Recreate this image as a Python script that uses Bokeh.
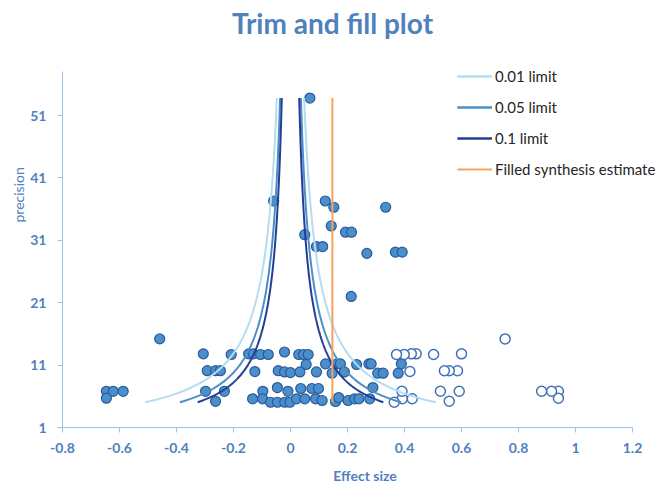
import numpy as np
from bokeh.plotting import figure
from bokeh.models import Range1d, FixedTicker, Legend, LegendItem, Title, Label
from bokeh.embed import file_html
from bokeh.resources import INLINE

# ---------------- data ----------------
# observed studies (filled markers)
obs_effect = [0.068, -0.059, 0.122, 0.152, 0.334, 0.143, 0.050, 0.193, 0.214, 0.091, 0.113,
              0.268, 0.368, 0.392, 0.213,
              -0.459,
              -0.306, -0.208, -0.147, -0.130, -0.105, -0.078, -0.021, 0.029, 0.046, 0.062,
              0.055, 0.123, 0.163, 0.175, 0.232, 0.275, 0.283, 0.389,
              -0.292, -0.263, -0.246, -0.125, -0.043, -0.021, 0.000, 0.033, 0.091, 0.146,
              0.189, 0.306, 0.325, 0.378,
              -0.646, -0.622, -0.587, -0.298, -0.232, -0.097, -0.046, -0.009, 0.036, 0.075,
              0.098, 0.289,
              -0.646, -0.263, -0.133, -0.098, -0.070, -0.046, -0.020, -0.002, 0.021, 0.050,
              0.088, 0.111, 0.158, 0.169, 0.202, 0.225, 0.240, 0.278]
obs_precision = [53.8, 37.3, 37.3, 36.3, 36.3, 33.3, 31.9, 32.3, 32.3, 30.0, 30.0,
                 28.9, 29.1, 29.1, 22.0,
                 15.2,
                 12.8, 12.7, 12.8, 12.8, 12.7, 12.7, 13.1, 12.7, 12.7, 12.7,
                 11.1, 11.2, 11.2, 11.2, 11.1, 11.2, 11.2, 11.2,
                 10.1, 10.1, 10.1, 9.97, 10.1, 9.9, 9.8, 9.9, 9.9, 9.7,
                 9.9, 9.7, 9.7, 9.7,
                 6.8, 6.8, 6.8, 6.8, 6.8, 6.8, 7.4, 6.8, 7.25, 7.25,
                 7.25, 7.4,
                 5.7, 5.2, 5.6, 5.6, 5.05, 5.05, 5.05, 5.05, 5.6, 5.6,
                 5.6, 5.33, 5.17, 5.8, 5.33, 5.6, 5.6, 5.6]

# imputed (filled-in) studies (open markers)
fill_effect = [0.940, 0.940, 0.916, 0.881, 0.753, 0.600, 0.592, 0.586, 0.557, 0.557, 0.540,
               0.526, 0.502, 0.441, 0.427, 0.424, 0.419, 0.399, 0.392, 0.391, 0.372, 0.364]
fill_precision = [6.8, 5.7, 6.8, 6.8, 15.2, 12.8, 6.8, 10.1, 10.1, 5.2, 10.1,
                  6.8, 12.7, 12.8, 5.6, 12.8, 9.97, 12.7, 5.6, 6.8, 12.7, 5.05]

# contour limits (z for two-sided significance levels)
limit_names = ["0.01 limit", "0.05 limit", "0.1 limit"]
limit_z = [2.576, 1.960, 1.645]
limit_colors = ["#B4DCF2", "#4C8FC6", "#233E97"]
precision_span = [5.05, 53.8]

filled_estimate = 0.147

x_ticks = [-0.8, -0.6, -0.4, -0.2, 0.0, 0.2, 0.4, 0.6, 0.8, 1.0, 1.2]
x_tick_labels = ["-0.8", "-0.6", "-0.4", "-0.2", "0", "0.2", "0.4", "0.6", "0.8", "1", "1.2"]
y_ticks = [1, 11, 21, 31, 41, 51]
x_axis_span = (-0.8, 1.2)
y_axis_span = (1, 58)

# ---------------- figure ----------------
BLUE = "#4F81BD"
FONT = "Lato"

# the frame is stretched to the top and right edges so that the title and legend,
# which sit outside the axes, are not clipped; the axes are bounded to their spans
p = figure(width=667, height=487, output_backend="svg", toolbar_location=None,
           x_range=Range1d(-0.8, 1.3228), y_range=Range1d(1, 69.43),
           min_border_left=62, min_border_right=0, min_border_top=0, min_border_bottom=60)
p.outline_line_color = None
p.xgrid.visible = False
p.ygrid.visible = False
p.background_fill_color = "white"

for ax in (p.xaxis[0], p.yaxis[0]):
    ax.axis_line_color = "#9CC2E5"
    ax.major_tick_line_color = "#9CC2E5"
    ax.major_tick_out = 5
    ax.major_tick_in = 0
    ax.minor_tick_line_color = None
    ax.major_label_text_color = BLUE
    ax.major_label_text_font = FONT
    ax.major_label_text_font_style = "bold"
    ax.major_label_text_font_size = "14px"

p.xaxis.bounds = x_axis_span
p.xaxis.ticker = FixedTicker(ticks=x_ticks)
p.xaxis.major_label_overrides = {t: l for t, l in zip(x_ticks, x_tick_labels)}
p.xaxis.major_label_standoff = 10
p.xaxis.axis_label = "Effect size"
p.xaxis.axis_label_standoff = 11
p.xaxis.axis_label_text_font = FONT
p.xaxis.axis_label_text_font_size = "14px"
p.xaxis.axis_label_text_font_style = "bold"
p.xaxis.axis_label_text_color = BLUE

p.yaxis.bounds = y_axis_span
p.yaxis.ticker = FixedTicker(ticks=y_ticks)
p.yaxis.major_label_standoff = 11

p.add_layout(Title(text="precision", align="left", offset=205, standoff=2,
                   text_font=FONT, text_font_size="14px", text_font_style="normal",
                   text_color=BLUE), "left")

# chart title (inside the stretched frame)
p.add_layout(Label(x=270, y=405, x_units="screen", y_units="screen", text="Trim and fill plot",
                   text_align="center", text_baseline="middle", text_font=FONT,
                   text_font_size="28px", text_font_style="bold", text_color=BLUE))

# points
p.scatter(obs_effect, obs_precision, size=10, fill_color="#4A8ECB", line_color="#2A5A9A",
          line_width=1.2)
p.scatter(fill_effect, fill_precision, size=10, fill_color="white", line_color="#4470B8",
          line_width=1.5)

# contour lines
prec = np.linspace(precision_span[0], precision_span[1], 300)
items = []
for name, z, c in zip(limit_names, limit_z, limit_colors):
    r1 = p.line(-z / prec, prec, line_color=c, line_width=2)
    r2 = p.line(z / prec, prec, line_color=c, line_width=2)
    items.append(LegendItem(label=name, renderers=[r1, r2]))

r_est = p.line([filled_estimate, filled_estimate], precision_span, line_color="#F5A25D",
               line_width=2)
items.append(LegendItem(label="Filled synthesis estimate", renderers=[r_est]))

legend = Legend(items=items, location=(395, 248), glyph_width=35, glyph_height=20,
                label_height=20, label_standoff=3, spacing=11, padding=0, margin=0,
                border_line_color=None, background_fill_alpha=0,
                label_text_font=FONT, label_text_font_size="15px",
                label_text_color="#262626")
p.add_layout(legend)

html = file_html(p, INLINE)
open("out.html", "w").write(html)
